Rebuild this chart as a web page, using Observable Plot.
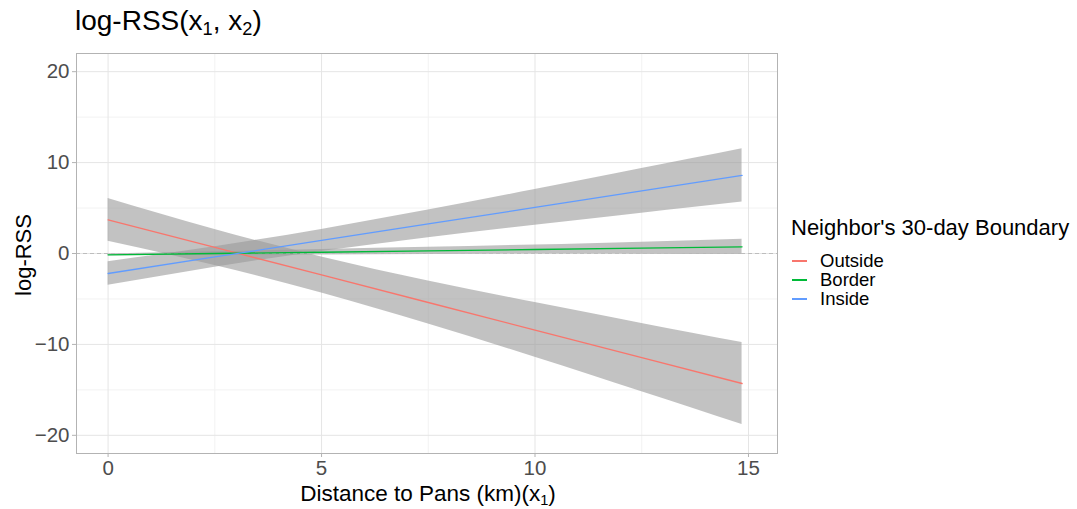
<!DOCTYPE html>
<html>
<head>
<meta charset="utf-8">
<script src="https://cdn.jsdelivr.net/npm/d3@7"></script>
<script src="https://cdn.jsdelivr.net/npm/@observablehq/plot@0.6"></script>
<style>
  html, body { margin: 0; padding: 0; background: #fff; width: 1077px; height: 509px; overflow: hidden; }
  body { font-family: "Liberation Sans", Arial, Helvetica, sans-serif; position: relative; }
  #title { position: absolute; left: 75px; top: 6px; font-size: 28px; line-height: 30px; color: #000; white-space: nowrap; }
  #title sub, #xlab sub { font-size: 65%; vertical-align: -0.25em; line-height: 0; }
  #chart { position: absolute; left: 0; top: 45px; }
  #ylab { position: absolute; left: 24px; top: 255px; transform: translate(-50%, -50%) rotate(-90deg); font-size: 22px; line-height: 24px; white-space: nowrap; color: #000; }
  #xlab { position: absolute; left: 428px; top: 482px; transform: translateX(-50%); font-size: 22.5px; line-height: 24px; white-space: nowrap; color: #000; }
  #legend { position: absolute; left: 791px; top: 214px; color: #000; }
  #legend .lt { font-size: 22px; line-height: 28px; white-space: nowrap; margin-bottom: 9px; }
  #legend .row { display: flex; align-items: center; height: 19px; }
  #legend .key { width: 15px; height: 2px; margin-left: 1px; margin-right: 13px; }
  #legend .lab { font-size: 18.5px; line-height: 19px; white-space: nowrap; }
</style>
</head>
<body>
<div id="title">log-RSS(x<sub>1</sub>, x<sub>2</sub>)</div>
<div id="chart"></div>
<div id="ylab">log-RSS</div>
<div id="xlab">Distance to Pans (km)(x<sub>1</sub>)</div>
<div id="legend"></div>
<script>
// ---- data ----
const groups = ["Outside", "Border", "Inside"];
const groupColors = ["#F8766D", "#00BA38", "#619CFF"];
const distance = [0, 2.5, 5, 7.5, 10, 12.5, 14.85];

const outsideFit = [3.7, 0.67, -2.36, -5.39, -8.42, -11.45, -14.3];
const outsideLo  = [1.35, -1.31, -4.34, -7.76, -11.4, -15.2, -18.8];
const outsideHi  = [6.05, 2.65, -0.38, -3.02, -5.4, -7.7, -9.8];

const borderFit = [-0.15, 0.0, 0.14, 0.29, 0.44, 0.59, 0.73];
const borderLo  = [-0.25, -0.18, -0.16, -0.11, -0.06, -0.07, -0.11];
const borderHi  = [-0.05, 0.18, 0.44, 0.69, 0.94, 1.25, 1.57];

const insideFit = [-2.2, -0.38, 1.44, 3.25, 5.07, 6.89, 8.6];
const insideLo  = [-3.5, -1.5, 0.22, 1.72, 3.11, 4.44, 5.67];
const insideHi  = [-0.9, 0.74, 2.65, 4.78, 7.03, 9.34, 11.53];

const xMajor = [0, 5, 10, 15];
const xMinor = [2.5, 7.5, 12.5];
const yMajor = [-20, -10, 0, 10, 20];
const yMinor = [-15, -5, 5, 15];

// ---- build table ----
const series = {
  Outside: [outsideFit, outsideLo, outsideHi],
  Border: [borderFit, borderLo, borderHi],
  Inside: [insideFit, insideLo, insideHi]
};
const rows = [];
for (const g of groups) {
  const [f, lo, hi] = series[g];
  distance.forEach((x, i) => rows.push({group: g, x, fit: f[i], lo: lo[i], hi: hi[i]}));
}

const tickFmt = d => d < 0 ? "\u2212" + Math.abs(d) : String(d);

const plot = Plot.plot({
  width: 790,
  height: 464,
  marginTop: 8,
  marginBottom: 56,
  marginLeft: 76,
  marginRight: 13,
  style: { fontFamily: "'Liberation Sans', Arial, Helvetica, sans-serif", background: "#fff", overflow: "visible" },
  x: { domain: [-0.74, 15.68] },
  y: { domain: [-22, 22] },
  color: { domain: groups, range: groupColors },
  marks: [
    Plot.ruleX(xMinor, { stroke: "#f2f2f2", strokeWidth: 1 }),
    Plot.ruleY(yMinor, { stroke: "#f2f2f2", strokeWidth: 1 }),
    Plot.ruleX(xMajor, { stroke: "#e5e5e5", strokeWidth: 1 }),
    Plot.ruleY(yMajor, { stroke: "#e5e5e5", strokeWidth: 1 }),
    Plot.areaY(rows, { x: "x", y1: "lo", y2: "hi", z: "group", fill: "#999999", fillOpacity: 0.6, curve: "natural" }),
    Plot.ruleY([0], { stroke: "#bdbdbd", strokeWidth: 1.1, strokeDasharray: "4,3" }),
    Plot.line(rows, { x: "x", y: "fit", z: "group", stroke: "group", strokeWidth: 1.3 }),
    Plot.frame({ stroke: "#b3b3b3", strokeWidth: 1 }),
    Plot.axisX(xMajor, { tickSize: 4, tickPadding: 3, fontSize: 20.5, fill: "#4d4d4d", stroke: "#b3b3b3", label: null, tickFormat: tickFmt }),
    Plot.axisY(yMajor, { tickSize: 4, tickPadding: 3, fontSize: 20.5, fill: "#4d4d4d", stroke: "#b3b3b3", label: null, tickFormat: tickFmt })
  ]
});
document.getElementById("chart").appendChild(plot);

// ---- legend ----
const leg = document.getElementById("legend");
const lt = document.createElement("div");
lt.className = "lt";
lt.textContent = "Neighbor's 30-day Boundary";
leg.appendChild(lt);
groups.forEach((g, i) => {
  const r = document.createElement("div");
  r.className = "row";
  const k = document.createElement("div");
  k.className = "key";
  k.style.background = groupColors[i];
  const l = document.createElement("div");
  l.className = "lab";
  l.textContent = g;
  r.appendChild(k); r.appendChild(l);
  leg.appendChild(r);
});
</script>
</body>
</html>
